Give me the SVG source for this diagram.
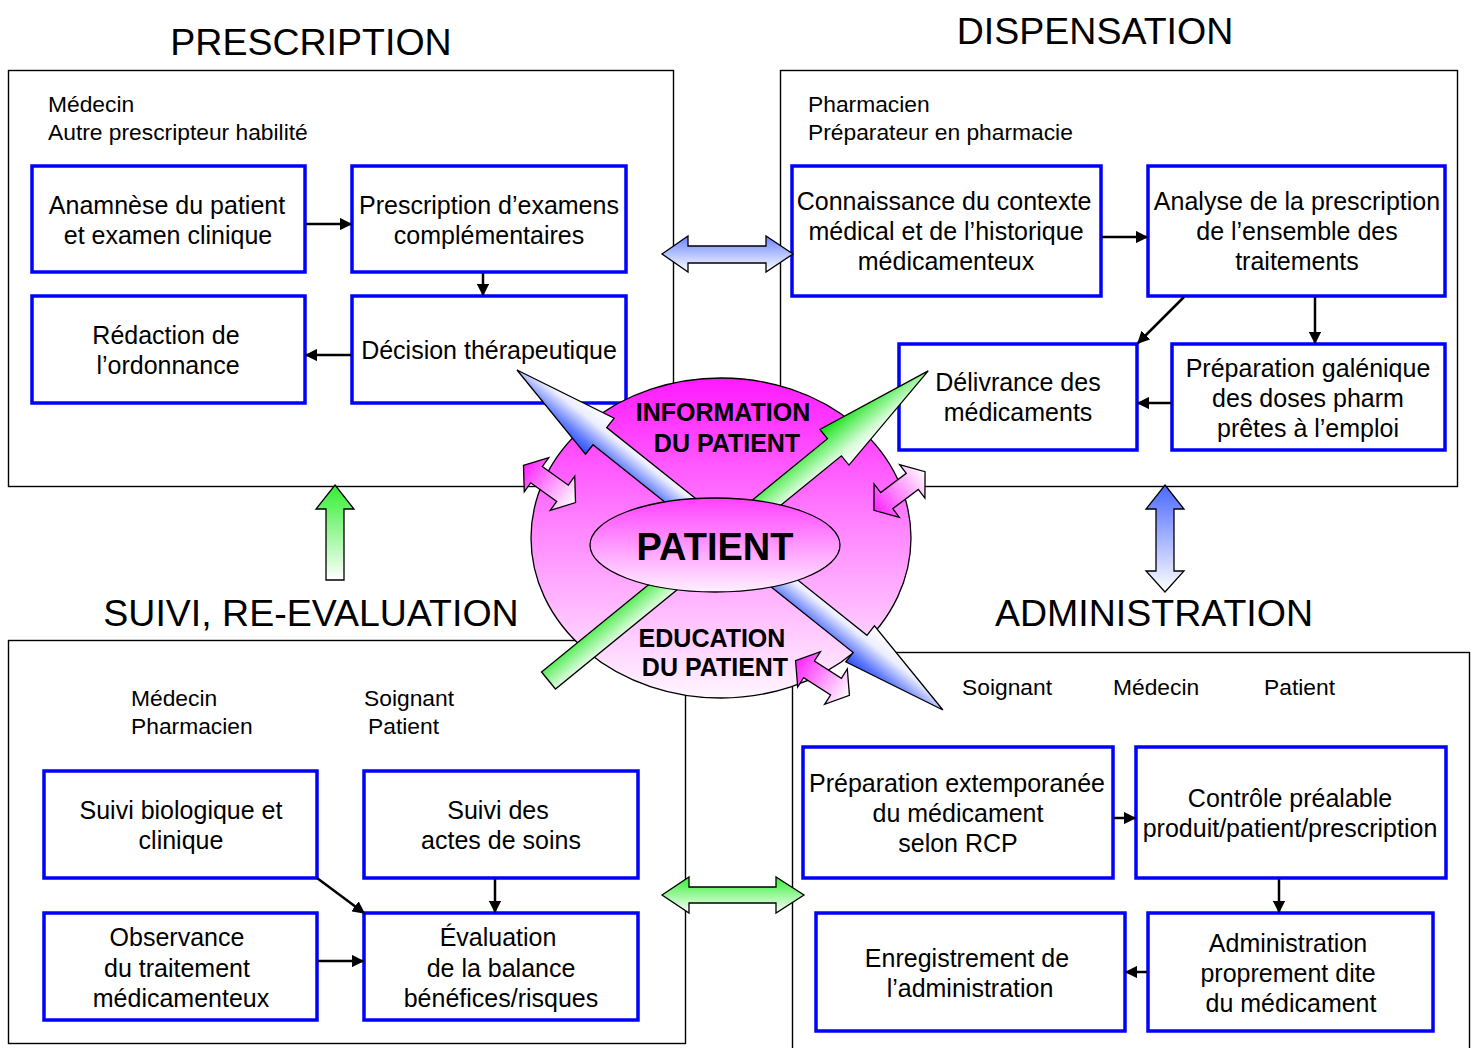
<svg xmlns="http://www.w3.org/2000/svg" width="1474" height="1048" viewBox="0 0 1474 1048">
<style>
text{font-family:"Liberation Sans",Arial,sans-serif;fill:#000}
.title{font-size:37.5px}
.sub{font-size:22.8px}
.bt{font-size:25px;text-anchor:middle}
.frame{fill:#fff;stroke:#000;stroke-width:1.4}
.box{fill:#fff;stroke:#0000ff;stroke-width:3.5}
.conn{stroke:#000;stroke-width:2.5;fill:none;marker-end:url(#ah)}
.big{stroke:#000;stroke-width:1.3}
.ctr{font-weight:bold;text-anchor:middle}
</style>
<defs>
<marker id="ah" viewBox="0 0 10 10" refX="9" refY="5" markerWidth="5" markerHeight="5" orient="auto"><path d="M0,0 L10,5 L0,10 z" fill="#000"/></marker>
<linearGradient id="gBlueV" x1="0" y1="0" x2="0" y2="1"><stop offset="0" stop-color="#6b84ff"/><stop offset="1" stop-color="#ffffff"/></linearGradient>
<linearGradient id="gBlueV2" x1="0" y1="0" x2="0" y2="1"><stop offset="0" stop-color="#4a68ff"/><stop offset="1" stop-color="#ffffff"/></linearGradient>
<linearGradient id="gGreenV" x1="0" y1="0" x2="0" y2="1"><stop offset="0" stop-color="#33ee33"/><stop offset="1" stop-color="#ffffff"/></linearGradient>
<linearGradient id="gBall" x1="0" y1="0" x2="0" y2="1"><stop offset="0" stop-color="#ff1aff"/><stop offset="0.5" stop-color="#ff8cff"/><stop offset="1" stop-color="#fff6ff"/></linearGradient>
<linearGradient id="gPat" x1="0" y1="0" x2="0" y2="1"><stop offset="0" stop-color="#ff40ff"/><stop offset="1" stop-color="#fff0ff"/></linearGradient>
<linearGradient id="gBlueX" x1="0" y1="0" x2="0" y2="1"><stop offset="0" stop-color="#ffffff"/><stop offset="0.35" stop-color="#eceeff"/><stop offset="0.75" stop-color="#6680ff"/><stop offset="1" stop-color="#2a4cff"/></linearGradient>
<linearGradient id="gGreenX" x1="0" y1="0" x2="0" y2="1"><stop offset="0" stop-color="#11dd11"/><stop offset="0.3" stop-color="#66ee66"/><stop offset="0.7" stop-color="#d8fcd8"/><stop offset="1" stop-color="#ffffff"/></linearGradient>
<linearGradient id="gPink" x1="0" y1="0" x2="1" y2="0"><stop offset="0" stop-color="#ff22ff"/><stop offset="1" stop-color="#ffffff"/></linearGradient>
<path id="pinkArrow" d="M-32,0 L-16,-21 L-16,-10 L16,-10 L16,-21 L32,0 L16,21 L16,10 L-16,10 L-16,21 Z"/>
</defs>

<rect width="1474" height="1048" fill="#fff"/>

<!-- Frames -->
<g id="frame-prescription">
<rect class="frame" x="8.5" y="70.5" width="665" height="416"/>
<text class="title" x="311" y="55" text-anchor="middle">PRESCRIPTION</text>
<text class="sub" x="48" y="112">Médecin</text>
<text class="sub" x="48" y="140">Autre prescripteur habilité</text>
</g>
<g id="frame-dispensation">
<rect class="frame" x="780.5" y="70.5" width="677" height="416"/>
<text class="title" x="1095" y="44" text-anchor="middle">DISPENSATION</text>
<text class="sub" x="808" y="112">Pharmacien</text>
<text class="sub" x="808" y="140">Préparateur en pharmacie</text>
</g>
<g id="frame-suivi">
<rect class="frame" x="8.5" y="640.5" width="677" height="403"/>
<text class="title" x="311" y="626" text-anchor="middle">SUIVI, RE-EVALUATION</text>
<text class="sub" x="131" y="706">Médecin</text>
<text class="sub" x="131" y="734">Pharmacien</text>
<text class="sub" x="364" y="706">Soignant</text>
<text class="sub" x="368" y="734">Patient</text>
</g>
<g id="frame-administration">
<rect class="frame" x="792.5" y="652.5" width="677" height="410"/>
<text class="title" x="1154" y="626" text-anchor="middle">ADMINISTRATION</text>
<text class="sub" x="962" y="695">Soignant</text>
<text class="sub" x="1113" y="695">Médecin</text>
<text class="sub" x="1264" y="695">Patient</text>
</g>

<!-- Prescription boxes -->
<g id="b-anamnese"><rect class="box" x="32" y="166" width="273" height="106"/><text class="bt" x="167" y="214">Anamnèse du patient</text><text class="bt" x="168" y="244">et examen clinique</text></g>
<g id="b-prescription-examens"><rect class="box" x="352" y="166" width="274" height="106"/><text class="bt" x="489" y="214">Prescription d’examens</text><text class="bt" x="489" y="244">complémentaires</text></g>
<g id="b-redaction"><rect class="box" x="32" y="296" width="273" height="107"/><text class="bt" x="166" y="344">Rédaction de</text><text class="bt" x="168" y="374">l’ordonnance</text></g>
<g id="b-decision"><rect class="box" x="352" y="296" width="274" height="107"/><text class="bt" x="489" y="359">Décision thérapeutique</text></g>

<!-- Dispensation boxes -->
<g id="c-connaissance"><rect class="box" x="792" y="166" width="309" height="130"/><text class="bt" x="944" y="210">Connaissance du contexte</text><text class="bt" x="946" y="240">médical et de l’historique</text><text class="bt" x="946" y="270">médicamenteux</text></g>
<g id="c-analyse"><rect class="box" x="1148" y="166" width="297" height="130"/><text class="bt" x="1297" y="210">Analyse de la prescription</text><text class="bt" x="1297" y="240">de l’ensemble des</text><text class="bt" x="1297" y="270">traitements</text></g>
<g id="c-delivrance"><rect class="box" x="899" y="344" width="238" height="106"/><text class="bt" x="1018" y="391">Délivrance des</text><text class="bt" x="1018" y="421">médicaments</text></g>
<g id="c-preparation"><rect class="box" x="1172" y="344" width="273" height="106"/><text class="bt" x="1308" y="377">Préparation galénique</text><text class="bt" x="1308" y="407">des doses pharm</text><text class="bt" x="1308" y="437">prêtes à l’emploi</text></g>

<!-- Suivi boxes -->
<g id="d-suivi-bio"><rect class="box" x="44" y="771" width="273" height="107"/><text class="bt" x="181" y="819">Suivi biologique et</text><text class="bt" x="181" y="849">clinique</text></g>
<g id="d-suivi-actes"><rect class="box" x="364" y="771" width="274" height="107"/><text class="bt" x="498" y="819">Suivi des</text><text class="bt" x="501" y="849">actes de soins</text></g>
<g id="d-observance"><rect class="box" x="44" y="913" width="273" height="107"/><text class="bt" x="177" y="946">Observance</text><text class="bt" x="177" y="977">du traitement</text><text class="bt" x="181" y="1007">médicamenteux</text></g>
<g id="d-evaluation"><rect class="box" x="364" y="913" width="274" height="107"/><text class="bt" x="498" y="946">Évaluation</text><text class="bt" x="501" y="977">de la balance</text><text class="bt" x="501" y="1007">bénéfices/risques</text></g>

<!-- Administration boxes -->
<g id="e-extemporanee"><rect class="box" x="803" y="747" width="310" height="131"/><text class="bt" x="957" y="792">Préparation extemporanée</text><text class="bt" x="958" y="822">du médicament</text><text class="bt" x="958" y="852">selon RCP</text></g>
<g id="e-controle"><rect class="box" x="1136" y="747" width="310" height="131"/><text class="bt" x="1290" y="807">Contrôle préalable</text><text class="bt" x="1290" y="837">produit/patient/prescription</text></g>
<g id="e-enregistrement"><rect class="box" x="816" y="913" width="309" height="118"/><text class="bt" x="967" y="967">Enregistrement de</text><text class="bt" x="970" y="997">l’administration</text></g>
<g id="e-administration"><rect class="box" x="1148" y="913" width="285" height="118"/><text class="bt" x="1288" y="952">Administration</text><text class="bt" x="1288" y="982">proprement dite</text><text class="bt" x="1291" y="1012">du médicament</text></g>

<!-- Connectors -->
<g id="connectors">
<line class="conn" x1="306" y1="224" x2="351" y2="224"/>
<line class="conn" x1="483" y1="273" x2="483" y2="295"/>
<line class="conn" x1="351" y1="355" x2="306" y2="355"/>
<line class="conn" x1="1102" y1="237" x2="1147" y2="237"/>
<line class="conn" x1="1184" y1="297" x2="1138" y2="343"/>
<line class="conn" x1="1315" y1="297" x2="1315" y2="343"/>
<line class="conn" x1="1171" y1="403" x2="1138" y2="403"/>
<line class="conn" x1="317" y1="878" x2="364" y2="913"/>
<line class="conn" x1="495" y1="879" x2="495" y2="912"/>
<line class="conn" x1="318" y1="961" x2="363" y2="961"/>
<line class="conn" x1="1114" y1="818" x2="1135" y2="818"/>
<line class="conn" x1="1279" y1="879" x2="1279" y2="912"/>
<line class="conn" x1="1147" y1="972" x2="1126" y2="972"/>
<polygon class="big" fill="url(#gBlueV)" points="662,254 688,236 688,246 766,246 766,236 793,254 766,272 766,263 688,263 688,272"/>
<polygon class="big" fill="url(#gGreenV)" points="662,895 689,877 689,887 776,887 776,877 804,895 776,913 776,903 689,903 689,913"/>
<polygon class="big" fill="url(#gBlueV2)" points="1165,485 1184,509 1174,509 1174,571 1184,571 1165,592 1146,571 1156,571 1156,509 1146,509"/>
<polygon class="big" fill="url(#gGreenV)" points="335,485 354,509 344,509 344,580 326,580 326,509 316,509"/>
</g>

<!-- Center -->
<g id="information-education">
<ellipse class="big" cx="721" cy="538" rx="190" ry="160" fill="url(#gBall)"/>
<text class="ctr" x="723" y="421" font-size="25">INFORMATION</text>
<text class="ctr" x="727" y="452" font-size="25">DU PATIENT</text>
<text class="ctr" x="712" y="647" font-size="25">EDUCATION</text>
<text class="ctr" x="715" y="676" font-size="25">DU PATIENT</text>
</g>
<g id="arrow-blue-diagonal">
<path class="big" fill="url(#gBlueX)" transform="translate(517,370) rotate(38.6)" d="M0,0 L106,-23 L106,-11 L439,-11 L439,-23 L545,0 L439,23 L439,11 L106,11 L106,23 Z"/>
</g>
<g id="arrow-green-diagonal">
<path class="big" fill="url(#gGreenX)" transform="translate(548.5,680.5) rotate(-39.2)" d="M0,-11 L369,-11 L369,-23 L490,0 L369,23 L369,11 L0,11 Z"/>
</g>
<g id="patient">
<ellipse class="big" cx="715" cy="545" rx="125" ry="47" fill="url(#gPat)"/>
<text class="ctr" x="715" y="560" font-size="38">PATIENT</text>
</g>
<g id="pink-arrows">
<use href="#pinkArrow" class="big" fill="url(#gPink)" transform="translate(549.5,484) rotate(35.6)"/>
<use href="#pinkArrow" class="big" fill="url(#gPink)" transform="translate(899.5,491) rotate(-37)"/>
<use href="#pinkArrow" class="big" fill="url(#gPink)" transform="translate(822.5,678) rotate(32.7)"/>
</g>
</svg>
